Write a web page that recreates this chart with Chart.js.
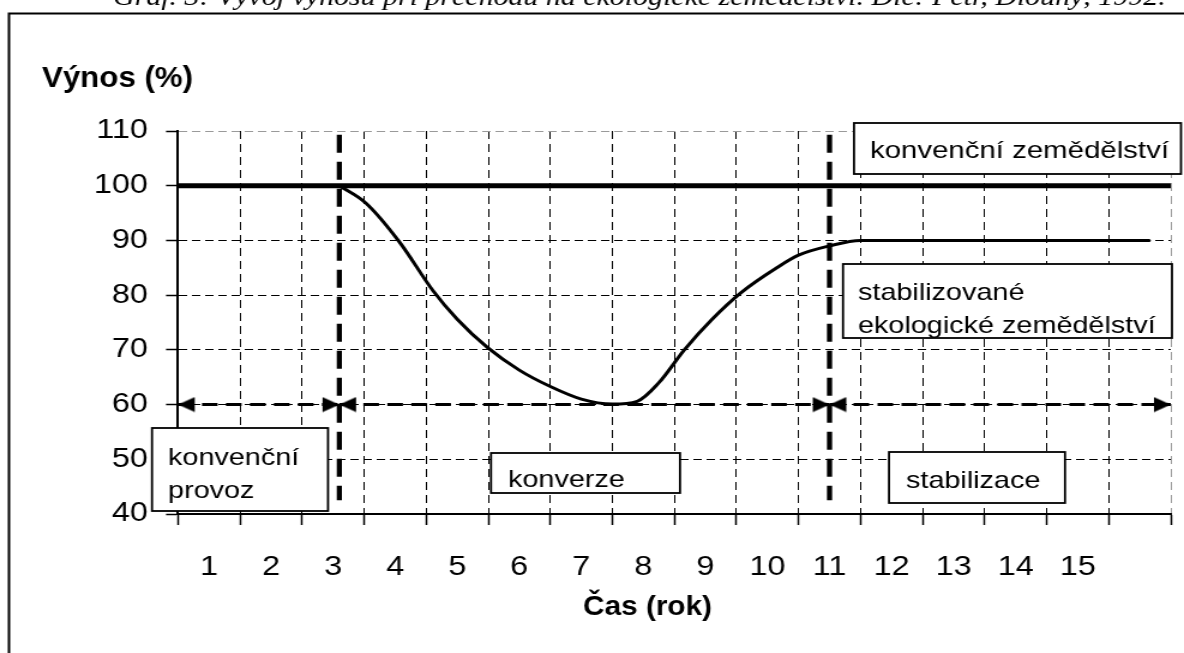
<!DOCTYPE html>
<html><head><meta charset="utf-8">
<script src="https://cdn.jsdelivr.net/npm/chart.js@4"></script>
<style>
html,body{margin:0;padding:0;background:#fff;overflow:hidden;width:1184px;height:653px;}
#wrap{position:absolute;left:0;top:0;width:987px;height:653px;transform:scaleX(1.19959);transform-origin:0 0;}
canvas{display:block}
</style></head><body>
<div id="wrap"><canvas id="c" width="987" height="653"></canvas></div>
<script>
// ---- data ----
const xLabels = ['1','2','3','4','5','6','7','8','9','10','11','12','13','14','15',''];
const yMin = 40, yMax = 110, yStep = 10;
const conventionalX = [0.5, 16.5];
const conventionalY = [100, 100];
const organicX = [3.1, 3.53, 4.07, 4.61, 5.0, 5.49, 6.0, 6.5, 7.0, 7.5, 7.9, 8.25, 8.66, 9.1, 9.58, 10.15, 10.5, 11.0, 11.5, 12.0, 16.15];
const organicY = [100, 96.8, 89.7, 80.8, 75.6, 70.4, 66.3, 63.3, 61, 60.1, 60.6, 64, 70, 75.5, 80.5, 85, 87.3, 89, 90, 90, 90];
const phaseBounds = [0.5, 3.1, 11.0, 16.5];
const arrowLevel = 60;
const dividerSpan = [109.3, 42.5];
const yTitle = 'Výnos (%)';
const xTitle = 'Čas (rok)';
const caption = 'Graf. 3: Vývoj výnosů při přechodu na ekologické zemědělství. Dle: Petr, Dlouhý, 1992.';
const noteTexts = [
  ['konvenční zemědělství'],
  ['stabilizované', 'ekologické zemědělství'],
  ['konvenční', 'provoz'],
  ['konverze'],
  ['stabilizace']
];

// ---- layout / style ----
const S = 1184 / 987;
const X = v => v / S;
const FONT = '"Liberation Sans", Arial, Helvetica, sans-serif';
const noteBoxes = [
  {l: 854, t: 123, r: 1181, b: 174, tx: 870, ty: [158], fs: 24.5},
  {l: 843, t: 264, r: 1172, b: 338, tx: 858, ty: [300, 333], fs: 24},
  {l: 152, t: 428, r: 328, b: 511, tx: 168, ty: [465, 498], fs: 24},
  {l: 491, t: 453, r: 680, b: 493, tx: 508, ty: [487], fs: 24},
  {l: 889, t: 452, r: 1065, b: 503, tx: 906, ty: [488], fs: 24}
];

function makeArrow() {
  const c = document.createElement('canvas');
  c.width = 30; c.height = 16;
  const g = c.getContext('2d');
  g.fillStyle = '#000';
  g.beginPath(); g.moveTo(15, 8); g.lineTo(1, 0.5); g.lineTo(1, 15.5); g.closePath(); g.fill();
  return c;
}
const arrowImg = makeArrow();

const pts = (xs, ys) => xs.map((x, i) => ({x, y: ys[i]}));

const datasets = [];
datasets.push({label: 'konvenční zemědělství', data: pts(conventionalX, conventionalY), borderColor: '#000', borderWidth: 5, pointRadius: 0, xAxisID: 'xv', yAxisID: 'y'});
datasets.push({label: 'ekologické zemědělství', data: pts(organicX, organicY), borderColor: '#000', borderWidth: 3, pointRadius: 0, cubicInterpolationMode: 'monotone', borderCapStyle: 'round', xAxisID: 'xv', yAxisID: 'y'});
[phaseBounds[1], phaseBounds[2]].forEach(b => {
  datasets.push({label: 'hranice', data: [{x: b, y: dividerSpan[0]}, {x: b, y: dividerSpan[1]}], borderColor: '#000', borderWidth: 4.3, borderDash: [18, 9], pointRadius: 0, xAxisID: 'xv', yAxisID: 'y'});
});
for (let i = 0; i < phaseBounds.length - 1; i++) {
  datasets.push({label: 'fáze', data: [{x: phaseBounds[i], y: arrowLevel}, {x: phaseBounds[i + 1], y: arrowLevel}], borderColor: '#000', borderWidth: 3, borderDash: [13, 7], pointStyle: arrowImg, pointRadius: 8, pointRotation: [180, 0], xAxisID: 'xv', yAxisID: 'y'});
}

const annot = {
  id: 'annot',
  afterDraw(chart) {
    const ctx = chart.ctx;
    ctx.save();
    // outer frame
    ctx.strokeStyle = '#000'; ctx.lineWidth = 2; ctx.setLineDash([]);
    ctx.beginPath(); ctx.moveTo(X(9), 700); ctx.lineTo(X(9), 13.5); ctx.lineTo(1000, 13.5); ctx.stroke();
    // caption (cut at top)
    ctx.fillStyle = '#000'; ctx.textAlign = 'left'; ctx.textBaseline = 'alphabetic';
    ctx.font = 'italic 24px "Liberation Serif", "Times New Roman", serif';
    const w = ctx.measureText(caption).width;
    const fs = 24 * X(1053) / w;
    ctx.font = 'italic ' + fs.toFixed(2) + 'px "Liberation Serif", "Times New Roman", serif';
    ctx.fillText(caption, X(113), 5);
    // axis titles
    ctx.font = 'bold 30px ' + FONT;
    ctx.fillText(yTitle, X(42), 87, X(151));
    ctx.font = 'bold 28px ' + FONT;
    ctx.fillText(xTitle, X(583), 615, X(129));
    // note boxes
    noteBoxes.forEach((b, k) => {
      ctx.fillStyle = '#fff';
      ctx.fillRect(X(b.l), b.t, X(b.r) - X(b.l), b.b - b.t);
      ctx.strokeStyle = '#000'; ctx.lineWidth = 1.8;
      ctx.strokeRect(X(b.l), b.t, X(b.r) - X(b.l), b.b - b.t);
      ctx.fillStyle = '#000';
      ctx.font = b.fs + 'px ' + FONT;
      noteTexts[k].forEach((t, i) => ctx.fillText(t, X(b.tx), b.ty[i]));
    });
    ctx.restore();
  }
};

new Chart(document.getElementById('c'), {
  type: 'line',
  data: {datasets},
  options: {
    responsive: false,
    animation: false,
    events: [],
    layout: {padding: {left: 0, top: 131, right: 987 - X(1172), bottom: 0}},
    plugins: {legend: {display: false}, tooltip: {enabled: false}, title: {display: false}},
    scales: {
      xv: {type: 'linear', display: false, min: 0.5, max: 16.5},
      xc: {
        type: 'category', labels: xLabels, position: 'bottom', offset: true,
        grid: {offset: true, color: c => (c.index === undefined ? '#9a9a9a' : '#000'), lineWidth: 1, tickLength: 11, tickColor: '#000', tickWidth: 1.5},
        border: {display: true, color: '#000', width: 2, dash: [8, 5]},
        ticks: {color: '#000', font: {family: FONT, size: 27}, padding: 26, maxRotation: 0, autoSkip: false},
        afterFit: s => { s.height = 139; }
      },
      y: {
        type: 'linear', min: yMin, max: yMax,
        ticks: {stepSize: yStep, color: '#000', font: {family: FONT, size: 27}, padding: 15},
        grid: {color: c => (c.tick && c.tick.value === yMax ? '#9a9a9a' : '#000'), lineWidth: 1, tickLength: 10, tickColor: '#000', tickWidth: 1.5},
        border: {display: true, color: '#000', width: 2, dash: [7, 4]},
        afterFit: s => { s.width = X(178); }
      }
    }
  },
  plugins: [annot]
});
</script>
</body></html>
